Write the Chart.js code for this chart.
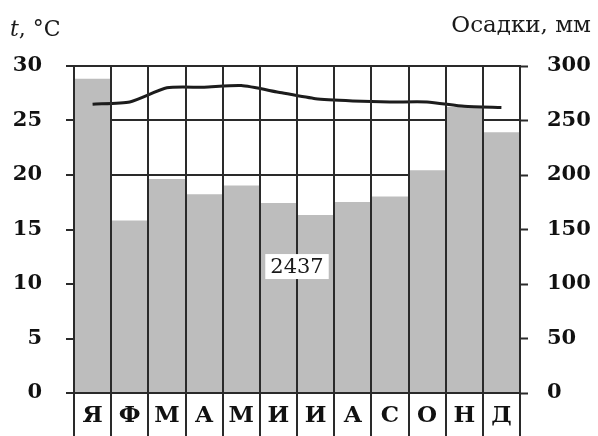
<!DOCTYPE html>
<html>
<head>
<meta charset="utf-8">
<script src="https://cdn.jsdelivr.net/npm/chart.js@4/dist/chart.umd.min.js"></script>
<style>
  html, body { margin: 0; padding: 0; background: #fff; }
  #wrap { width: 598px; height: 436px; position: relative; }
</style>
</head>
<body>
<div id="wrap"><canvas id="c" width="598" height="436"></canvas></div>
<script>
const months = ['Я', 'Ф', 'М', 'А', 'М', 'И', 'И', 'А', 'С', 'О', 'Н', 'Д'];
const precipitation = [288, 158, 196, 182, 190, 174, 163, 175, 180, 204, 262, 239];
const temperature = [26.5, 26.7, 28.0, 28.05, 28.2, 27.6, 27.0, 26.8, 26.7, 26.7, 26.3, 26.2];
const tempTicks = [0, 5, 10, 15, 20, 25, 30];
const precipTicks = [0, 50, 100, 150, 200, 250, 300];
const annualTotal = '2437';
const leftTitle = ['t', ', °C'];
const rightTitle = 'Осадки, мм';

const ink = '#2a2a2a';
const serif = "'DejaVu Serif', 'Liberation Serif', serif";

const overlay = {
  id: 'overlay',
  afterDraw(chart) {
    const ctx = chart.ctx;
    const x = chart.scales.x, yT = chart.scales.yT;
    ctx.save();
    // annual total label
    const cx = (x.getPixelForValue(5) + x.getPixelForValue(6)) / 2;
    const cy = yT.getPixelForValue(11.6);
    ctx.font = "21px " + serif;
    const w = ctx.measureText(annualTotal).width + 10;
    ctx.fillStyle = '#fff';
    ctx.fillRect(cx - w / 2, cy - 12.5, w, 25);
    ctx.fillStyle = '#1a1a1a';
    ctx.textAlign = 'center';
    ctx.textBaseline = 'middle';
    ctx.fillText(annualTotal, cx, cy + 1);
    // axis titles
    ctx.textBaseline = 'alphabetic';
    ctx.textAlign = 'left';
    ctx.font = "italic 22px " + serif;
    ctx.fillText(leftTitle[0], 10, 36);
    const tw = ctx.measureText(leftTitle[0]).width;
    ctx.font = "22px " + serif;
    ctx.fillText(leftTitle[1], 10 + tw, 36);
    ctx.font = "23px " + serif;
    ctx.textAlign = 'right';
    ctx.fillText(rightTitle, 591, 32);
    ctx.restore();
  }
};

new Chart(document.getElementById('c'), {
  data: {
    labels: months,
    datasets: [
      {
        type: 'line',
        data: temperature,
        yAxisID: 'yT',
        borderColor: '#1c1c1c',
        borderWidth: 3,
        pointRadius: 0,
        tension: 0.2,
        order: 0
      },
      {
        type: 'bar',
        data: precipitation,
        yAxisID: 'yP',
        backgroundColor: '#bdbdbd',
        borderWidth: 0,
        barPercentage: 1,
        categoryPercentage: 1,
        order: 1
      }
    ]
  },
  options: {
    responsive: false,
    animation: false,
    layout: { padding: { top: 66, left: 0, right: 0, bottom: 0 } },
    plugins: { legend: { display: false }, tooltip: { enabled: false }, title: { display: false } },
    scales: {
      x: {
        type: 'category',
        position: 'bottom',
        offset: true,
        grid: { z: 1, offset: true, color: ink, lineWidth: 2, drawTicks: true, tickLength: 43, tickColor: ink, tickWidth: 2 },
        border: { display: true, color: ink, width: 2, z: 1 },
        ticks: { color: '#111', font: { family: serif, size: 23, weight: 'bold' }, padding: -34, maxRotation: 0, autoSkip: false },
        afterFit(s) { s.height = 43; }
      },
      yT: {
        position: 'left',
        min: 0, max: 30,
        afterBuildTicks(s) { s.ticks = tempTicks.map(v => ({ value: v })); },
        grid: { color: ink, lineWidth: 2, drawTicks: true, tickLength: 8, tickColor: ink, tickWidth: 2 },
        border: { display: true, color: ink, width: 2, z: 1 },
        ticks: { color: '#111', font: { family: serif, size: 21, weight: 'bold' }, padding: 24 },
        afterFit(s) { s.width = 74; }
      },
      yP: {
        position: 'right',
        min: 0, max: 300,
        afterBuildTicks(s) { s.ticks = precipTicks.map(v => ({ value: v })); },
        grid: { drawOnChartArea: false, drawTicks: true, tickLength: 8, tickColor: ink, tickWidth: 2 },
        border: { display: true, color: ink, width: 2, z: 1 },
        ticks: { color: '#111', font: { family: serif, size: 21, weight: 'bold' }, padding: 19 },
        afterFit(s) { s.width = 78; }
      }
    }
  },
  plugins: [overlay]
});
</script>
</body>
</html>
